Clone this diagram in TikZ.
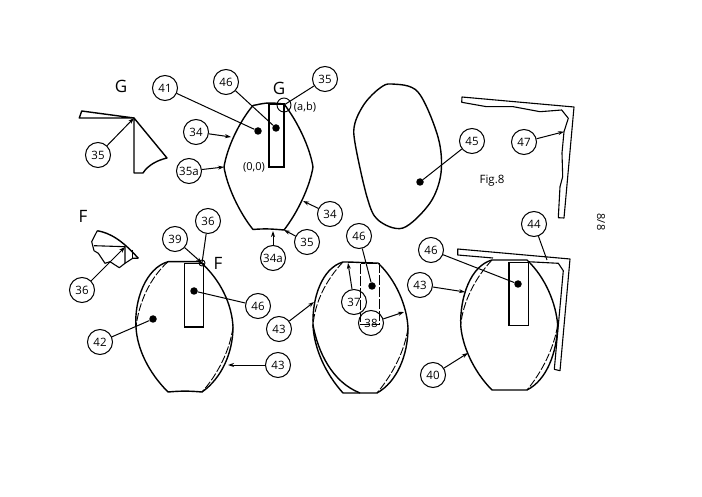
\documentclass[tikz,border=0pt]{standalone}
\usepackage{fontspec}
\setmainfont{Open Sans}
\usetikzlibrary{arrows.meta}
\tikzset{
  x=1pt,y=-1pt,
  tag/.style={circle,draw,line width=1pt,minimum size=25pt,inner sep=0pt,font=\fontsize{11.5}{11.5}\selectfont},
  lead/.style={line width=1pt,-{Stealth[length=6pt,width=4pt]}},
  plain/.style={line width=1pt},
  blob/.style={circle,fill=black,minimum size=7.5pt,inner sep=0pt},
  outline/.style={line width=1.4pt,line join=round},
  ghost/.style={line width=0.9pt,dash pattern=on 8pt off 2pt},
  thinbox/.style={line width=1.2pt},
  lab/.style={inner sep=0pt,font=\fontsize{11}{11}\selectfont},
  big/.style={inner sep=0pt,font=\fontsize{17}{17}\selectfont},
}
\begin{document}
\begin{tikzpicture}
\useasboundingbox (0,0) rectangle (702,497);
\fill[white] (0,0) rectangle (702,497);
% ---------- top lens
\draw[outline] (253,105.5) to[out=10,in=180] (270,103) to[out=0,in=175] (284,104)
  .. controls (298,122) and (310,148) .. (313,167)
  .. controls (310,186) and (298,212) .. (284,230)
  to[out=175,in=5] (253,229.5)
  .. controls (239,212) and (227,186) .. (224,167)
  .. controls (227,148) and (239,122) .. (253,105.5);
\draw[thinbox] (269,104) rectangle (284,167);
\node[blob] (d41) at (258,131) {};
\node[blob] (d46a) at (276,128) {};
\coordinate (g34a) at (231,137);
\coordinate (g35a) at (224,167);
\coordinate (g34b) at (303,201);
\coordinate (g34c) at (273,231);
\coordinate (g35b) at (284,230);
\node[circle,draw,line width=0.9pt,minimum size=14pt,inner sep=0pt] (ring) at (284,105) {};
\node[lab] at (305,107) {(a,b)};
\node[lab] at (254,167) {(0,0)};
\node[big] at (121,86) {G};
\node[big] at (279,88) {G};
\node[big] at (83,216) {F};
\node[big] at (218,263) {F};
% ---------- G detail
\draw[outline] (81.7,111) -- (134,118) -- (79.3,118) -- cycle;
\draw[outline] (134,118) -- (134,173) -- (143,173) .. controls (148,165) and (158,160) .. (167,158) -- cycle;
\coordinate (gapex) at (134,118);
% ---------- F detail
\draw[outline] (97.3,230.7) .. controls (110,233) and (122,240) .. (138.3,258.3);
\draw[line width=1.1pt,line join=round] (97.3,230.7) -- (91.7,241.7) -- (94,250.7) -- (98.3,253.3) -- (105,263.3) -- (110,261.7) -- (119.3,267.7) -- (125,263.3) -- (132.7,258.3) -- (138.3,258.3);
\draw[line width=1.1pt] (94,245.7) -- (125,246.7) -- (125,263.3);
\draw[line width=1.1pt] (132.7,250) -- (132.7,258.3);
\coordinate (fapex) at (125,247);
% ---------- lens 42
\draw[outline] (168,261.7) to[out=0,in=180] (200,261.7)
  .. controls (221,280) and (232,305) .. (233,327)
  .. controls (233,352) and (222,378) .. (202,392)
  to[out=175,in=5] (168,392)
  .. controls (148,372) and (137,348) .. (136,327)
  .. controls (134,300) and (146,268) .. (168,261.7);
\draw[ghost] (168,261.7) .. controls (150,278) and (139,302) .. (136,327);
\draw[ghost] (233,327) .. controls (230,350) and (218,374) .. (202,392);
\draw[thinbox] (184.3,263.3) rectangle (203.7,327);
\node[circle,draw,line width=0.9pt,minimum size=6pt,inner sep=0pt] (ring2) at (202,263) {};
\node[blob] (d42) at (153,319) {};
\node[blob] (d46b) at (194,291) {};
\coordinate (g43a) at (228,365);
% ---------- lens middle
\draw[outline] (343,262) to[out=0,in=180] (378,263)
  .. controls (396,280) and (407,306) .. (408,328)
  .. controls (408,355) and (397,382) .. (377,393)
  to[out=180,in=0] (343,393)
  .. controls (325,373) and (314,348) .. (313,325)
  .. controls (312,298) and (322,268) .. (343,262);
\draw[outline] (313,325) .. controls (318,352) and (332,382) .. (360,393);
\draw[ghost] (343,262) .. controls (326,280) and (315,302) .. (313,325);
\draw[ghost] (408,328) .. controls (405,350) and (393,374) .. (377,393);
\draw[line width=1pt,dash pattern=on 10pt off 2pt] (360.7,264) rectangle (379.7,325);
\node[blob] (d46c) at (372,286) {};
\coordinate (g37) at (348,263);
\coordinate (g38) at (404,312);
\coordinate (g43b) at (314,302);
% ---------- lens right
\draw[outline] (492,260) to[out=0,in=180] (527,260)
  .. controls (546,278) and (556,304) .. (557.7,325)
  .. controls (557,352) and (547,380) .. (527,390)
  to[out=180,in=0] (492,390)
  .. controls (474,372) and (462,346) .. (460.7,325)
  .. controls (460,298) and (470,266) .. (492,260);
\draw[ghost] (492,260) .. controls (475,278) and (463,302) .. (460.7,325);
\draw[ghost] (557.7,325) .. controls (554,348) and (542,372) .. (527,390);
\draw[thinbox] (509,262.3) rectangle (528.3,325.3);
\draw[line width=1.1pt,line join=round] (493,258) -- (457.7,255) -- (457.7,249) -- (570,259) -- (560,370.7) -- (554.3,369.3) -- (563.3,270.7) -- (558.3,263.3) -- (528,261.7);
\node[blob] (d46d) at (518,284) {};
\coordinate (g43c) at (465,292);
\coordinate (g40) at (468,353);
\coordinate (g44) at (547,260);
% ---------- shape 45
\draw[outline] plot[smooth cycle,tension=0.55] coordinates {(392,84) (418,92) (438,137) (441,173) (430,203) (403,228) (378,220) (367,197) (355,143) (355,123) (365,103) (380,88)};
\node[blob] (d45) at (420,182) {};
% ---------- bracket 47
\draw[line width=1.1pt,line join=round] (462,97) -- (574,107) -- (564,218) -- (558.3,217.7) -- (560,186.7) -- (562.7,176.7) -- (562,153) -- (564,131.7) -- (568.3,118.3) -- (561.7,110) -- (540,111.7) -- (513.3,106.7) -- (486.7,106.7) -- (461.7,102.3) -- cycle;
\coordinate (g47) at (564,131.7);
\node[inner sep=0pt,font=\fontsize{11.5}{11.5}\selectfont] at (492,181) {Fig.8};
\node[inner sep=0pt,font=\fontsize{11}{11}\selectfont,rotate=-90] at (601,222) {8/8};
% ---------- tags
\node[tag] (t41) at (165,88) {41};
\node[tag] (t46a) at (226,82) {46};
\node[tag] (t35a) at (325,79) {35};
\node[tag] (t35g) at (98,155) {35};
\node[tag] (t34a) at (196,132) {34};
\node[tag] (t35s) at (189,171) {35a};
\node[tag] (t34b) at (330,214) {34};
\node[tag] (t35b) at (307,242) {35};
\node[tag] (t34s) at (273,258) {34a};
\node[tag] (t45) at (472,141) {45};
\node[tag] (t47) at (524,142) {47};
\node[tag] (t44) at (534,224) {44};
\node[tag] (t36f) at (82,290) {36};
\node[tag] (t39) at (175,239) {39};
\node[tag] (t36) at (208,221) {36};
\node[tag] (t42) at (100,342) {42};
\node[tag] (t46b) at (258,306) {46};
\node[tag] (t43a) at (278,365) {43};
\node[tag] (t46c) at (359,236) {46};
\node[tag] (t37) at (354,302) {37};
\node[tag] (t38) at (371,323) {38};
\node[tag] (t43b) at (279,329) {43};
\node[tag] (t46d) at (431,250) {46};
\node[tag] (t43c) at (420,285) {43};
\node[tag] (t40) at (433,375) {40};
% ---------- leaders
\draw[plain] (t41) -- (d41);
\draw[plain] (t46a) -- (d46a);
\draw[plain] (t35a) -- (ring.center);
\draw[lead] (t35g) -- (gapex);
\draw[lead] (t34a) -- (g34a);
\draw[lead] (t35s) -- (g35a);
\draw[lead] (t34b) -- (g34b);
\draw[lead] (t35b) -- (g35b);
\draw[lead] (t34s) -- (g34c);
\draw[plain] (t45) -- (d45);
\draw[lead] (t47) -- (g47);
\draw[plain] (t44) -- (g44);
\draw[lead] (t36f) -- (fapex);
\draw[lead] (t39) -- (ring2.center);
\draw[plain] (t36) -- (ring2.center);
\draw[plain] (t42) -- (d42);
\draw[plain] (t46b) -- (d46b);
\draw[lead] (t43a) -- (g43a);
\draw[plain] (t46c) -- (d46c);
\draw[lead] (t37) -- (g37);
\draw[lead] (t38) -- (g38);
\draw[lead] (t43b) -- (g43b);
\draw[plain] (t46d) -- (d46d);
\draw[lead] (t43c) -- (g43c);
\draw[lead] (t40) -- (g40);
\end{tikzpicture}
\end{document}
